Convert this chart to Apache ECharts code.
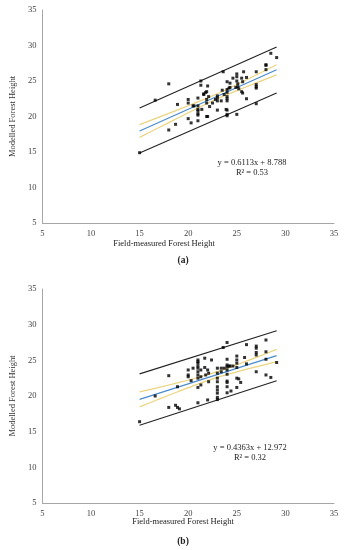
<!DOCTYPE html>
<html><head><meta charset="utf-8">
<script src="https://cdn.jsdelivr.net/npm/echarts@6/dist/echarts.min.js"></script>
<style>html,body{margin:0;padding:0;background:#fff}#c{width:350px;height:550px}</style>
</head><body><div id="c"></div>
<script>
// Axis ticks
const axisMin = 5, axisMax = 35, axisStep = 5;

// Panel (a) data
const pointsA = [[15.0,14.9],[16.6,22.3],[18.0,24.6],[18.0,18.1],[18.7,18.9],[18.9,21.7],[20.0,22.4],[20.0,21.9],[20.0,19.7],[20.3,19.1],[20.5,21.5],[21.0,22.6],[21.0,21.5],[21.0,21.0],[21.0,20.8],[21.0,20.4],[21.0,20.2],[21.0,19.4],[21.3,25.0],[21.3,24.4],[21.4,21.0],[21.6,23.2],[21.8,23.4],[22.0,24.3],[21.9,22.4],[21.9,21.9],[22.0,20.0],[22.1,22.8],[22.2,21.4],[22.5,21.9],[22.8,22.4],[23.0,22.9],[23.0,22.6],[23.0,22.2],[23.0,20.9],[23.4,22.2],[23.5,23.7],[23.6,26.3],[23.7,23.1],[24.0,22.8],[24.0,22.5],[24.0,22.2],[24.0,24.9],[24.0,23.8],[24.0,23.4],[23.9,21.0],[24.0,20.9],[24.0,20.3],[24.0,20.1],[24.2,24.0],[24.3,24.7],[24.3,24.1],[24.6,25.4],[24.9,24.1],[25.0,26.0],[25.0,25.6],[25.0,25.0],[25.1,24.6],[25.1,24.2],[25.2,23.9],[25.0,20.3],[25.5,25.4],[25.6,23.3],[25.7,26.3],[26.0,25.5],[26.0,22.5],[27.0,26.3],[27.0,24.5],[27.0,24.2],[27.0,24.0],[27.0,21.8],[28.0,27.3],[28.0,27.2],[28.0,26.6],[28.5,28.9],[29.1,28.3],[21.6,23.1],[21.9,23.5],[20.6,21.5],[21.9,20.0],[25.6,24.9],[25.5,23.5]];
const fitA = [[15,17.96],[29.1,26.58]];
const predUpperA = [[15,21.2],[29.1,29.8]];
const predLowerA = [[15,14.85],[29.1,23.3]];
const confUpperA = [[15,18.86],[17,19.91],[19,20.97],[21,22.06],[23,23.20],[25,24.50],[27,25.84],[29.1,27.30]];
const confLowerA = [[15,17.06],[17,18.45],[19,19.83],[21,21.20],[23,22.50],[25,23.64],[27,24.74],[29.1,25.86]];
const eqA = 'y = 0.6113x + 8.788', r2A = 'R² = 0.53';

// Panel (b) data
const pointsB = [[15.0,16.4],[16.6,20.0],[18.0,22.85],[18.0,18.4],[18.7,18.7],[18.9,18.4],[18.9,21.3],[20.0,23.65],[20.0,22.95],[20.0,22.7],[20.3,22.15],[20.5,23.9],[21.0,25.05],[21.0,24.8],[21.0,24.6],[21.0,24.2],[21.0,23.9],[21.0,23.4],[21.0,22.95],[21.0,22.5],[21.0,21.2],[21.0,19.05],[21.3,23.65],[21.3,22.7],[21.3,21.55],[21.7,25.3],[21.7,24.0],[21.8,22.95],[22.0,23.65],[22.1,22.0],[22.1,23.2],[22.4,25.05],[22.0,19.45],[23.0,23.9],[23.0,23.2],[23.0,22.5],[23.0,22.0],[23.0,21.3],[23.0,20.85],[23.0,20.4],[23.0,19.8],[23.0,19.5],[23.4,23.9],[23.4,23.4],[23.6,26.8],[23.7,23.9],[24.0,27.5],[24.0,25.15],[24.0,24.35],[24.0,24.1],[24.0,23.65],[24.0,23.05],[24.0,22.1],[24.0,21.9],[24.0,21.3],[24.0,20.45],[24.2,24.2],[24.3,24.2],[24.4,20.7],[24.6,24.2],[25.0,25.6],[25.0,25.05],[25.0,24.6],[25.0,24.0],[25.0,22.5],[25.2,22.4],[25.0,21.2],[25.4,21.9],[25.8,25.4],[26.0,27.2],[26.0,24.5],[27.0,27.0],[27.0,26.7],[27.0,26.1],[27.0,25.75],[27.0,23.4],[28.0,27.85],[28.0,26.2],[28.0,25.15],[28.0,22.95],[28.5,22.6],[29.1,24.7],[19.1,18.2]];
const fitB = [[15,19.52],[29.1,25.67]];
const predUpperB = [[15,23.1],[29.1,29.15]];
const predLowerB = [[15,15.9],[29.1,22.15]];
const confUpperB = [[15,20.57],[17,21.21],[19,21.88],[21,22.59],[23,23.41],[25,24.38],[27,25.41],[29.1,26.53]];
const confLowerB = [[15,18.47],[17,19.57],[19,20.64],[21,21.67],[23,22.61],[25,23.38],[27,24.09],[29.1,24.81]];
const eqB = 'y = 0.4363x + 12.972', r2B = 'R² = 0.32';

const xTitle = 'Field-measured Forest Height';
const yTitle = 'Modelled Forest Height';

const FONT = '"Liberation Serif", "Times New Roman", serif';
const chart = echarts.init(document.getElementById('c'), null, {renderer: 'canvas'});

function xAx(gi) {
  return {gridIndex: gi, type: 'value', min: axisMin, max: axisMax, interval: axisStep,
    axisLine: {show: true, lineStyle: {color: '#a6a6a6', width: 1}}, axisTick: {show: false},
    splitLine: {show: false},
    axisLabel: {fontFamily: FONT, fontSize: 8.5, color: '#444', margin: 6}};
}
function yAx(gi) {
  return {gridIndex: gi, type: 'value', min: axisMin, max: axisMax, interval: axisStep,
    axisLine: {show: true, lineStyle: {color: '#a6a6a6', width: 1}}, axisTick: {show: false},
    splitLine: {show: false},
    name: yTitle, nameLocation: 'middle', nameGap: 17,
    nameTextStyle: {fontFamily: FONT, fontSize: 8.5, color: '#333'},
    axisLabel: {fontFamily: FONT, fontSize: 8.5, color: '#444', margin: 6}};
}
function lineS(gi, data, color, w) {
  return {type: 'line', xAxisIndex: gi, yAxisIndex: gi, data: data, smooth: 0.3, symbol: 'none',
    lineStyle: {color: color, width: w}, silent: true, z: 2};
}
function panel(gi, pts, fit, pu, pl, cu, cl) {
  return [
    lineS(gi, cu, '#ecd47e', 1.2),
    lineS(gi, cl, '#ecd47e', 1.2),
    lineS(gi, fit, '#4a8ccb', 1.2),
    {type: 'line', xAxisIndex: gi, yAxisIndex: gi, data: pu, symbol: 'none', lineStyle: {color: '#222', width: 1.1}, z: 2},
    {type: 'line', xAxisIndex: gi, yAxisIndex: gi, data: pl, symbol: 'none', lineStyle: {color: '#222', width: 1.1}, z: 2},
    {type: 'scatter', xAxisIndex: gi, yAxisIndex: gi, data: pts, symbol: 'rect', symbolSize: 3,
      itemStyle: {color: '#000'}, z: 3}
  ];
}
function txt(x, y, s, bold) {
  return {type: 'text', left: x, top: y, style: {text: s, fontFamily: FONT, fontSize: bold ? 9 : 8.5,
    fontWeight: bold ? 'bold' : 'normal', fill: '#222', align: 'center', verticalAlign: 'middle'}};
}
function ctext(cx, cy, s, bold) {
  return {type: 'text', x: cx, y: cy, style: {text: s, fontFamily: FONT, fontSize: bold ? 9.5 : 8.5,
    fontWeight: bold ? 'bold' : 'normal', fill: '#222', align: 'center', verticalAlign: 'middle'}};
}

chart.setOption({
  animation: false,
  backgroundColor: '#fff',
  grid: [
    {left: 31, top: 10, width: 303, height: 213},
    {left: 31, top: 289, width: 303, height: 214}
  ],
  xAxis: [xAx(0), xAx(1)],
  yAxis: [yAx(0), yAx(1)],
  series: [].concat(
    panel(0, pointsA, fitA, predUpperA, predLowerA, confUpperA, confLowerA),
    panel(1, pointsB, fitB, predUpperB, predLowerB, confUpperB, confLowerB)
  ),
  graphic: [
    ctext(252, 163, eqA), ctext(252, 173, r2A),
    ctext(250, 448, eqB), ctext(250, 458, r2B),
    ctext(164, 244, xTitle), ctext(183, 522, xTitle),
    ctext(183, 261, '(a)', true), ctext(183, 542, '(b)', true)
  ]
});
</script></body></html>
